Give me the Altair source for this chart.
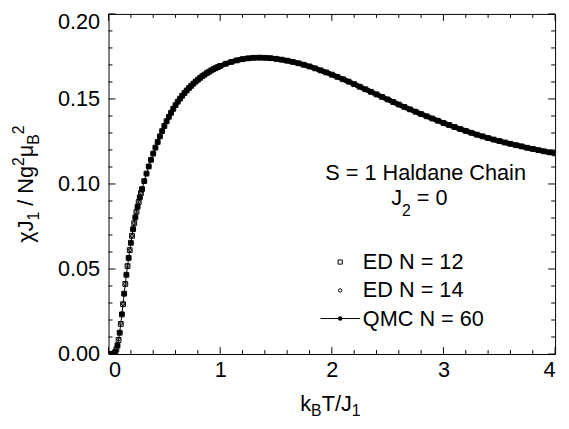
import altair as alt
import pandas as pd

# ---------------- data ----------------
T_ED = [0.01, 0.02, 0.03, 0.04, 0.05, 0.06, 0.07, 0.08, 0.09, 0.10,
        0.11, 0.12, 0.13, 0.14, 0.15, 0.16, 0.17, 0.18, 0.19, 0.20,
        0.21, 0.22, 0.23, 0.24, 0.25, 0.26, 0.27, 0.28, 0.29, 0.30,
        0.32, 0.34, 0.36, 0.38, 0.40, 0.42, 0.44, 0.46, 0.48, 0.50,
        0.52, 0.54, 0.56, 0.58, 0.60, 0.62, 0.64, 0.66, 0.68, 0.70,
        0.72, 0.74, 0.76, 0.78, 0.80, 0.82, 0.84, 0.86, 0.88, 0.90,
        0.92, 0.94, 0.96, 0.98, 1.00,
        1.05, 1.10, 1.15, 1.20, 1.25, 1.30, 1.35, 1.40, 1.45, 1.50,
        1.55, 1.60, 1.65, 1.70, 1.75, 1.80, 1.85, 1.90, 1.95, 2.00,
        2.05, 2.10, 2.15, 2.20, 2.25, 2.30, 2.35, 2.40, 2.45, 2.50,
        2.55, 2.60, 2.65, 2.70, 2.75, 2.80, 2.85, 2.90, 2.95, 3.00,
        3.05, 3.10, 3.15, 3.20, 3.25, 3.30, 3.35, 3.40, 3.45, 3.50,
        3.55, 3.60, 3.65, 3.70, 3.75, 3.80, 3.85, 3.90, 3.95, 4.00]

CHI_ED12 = [0.0000, 0.0000, 0.0000, 0.0001, 0.0004, 0.0012, 0.0027, 0.0050, 0.0083, 0.0125,
            0.0177, 0.0233, 0.0293, 0.0355, 0.0412, 0.0466, 0.0517, 0.0565, 0.0611, 0.0654,
            0.0695, 0.0734, 0.0770, 0.0804, 0.0836, 0.0866, 0.0894, 0.0921, 0.0946, 0.0970,
            0.1017, 0.1061, 0.1103, 0.1142, 0.1179, 0.1214, 0.1247, 0.1280, 0.1311, 0.1341,
            0.1369, 0.1395, 0.1419, 0.1442, 0.1464, 0.1484, 0.1502, 0.1519, 0.1535, 0.1550,
            0.1564, 0.1577, 0.1590, 0.1602, 0.1613, 0.1624, 0.1634, 0.1643, 0.1652, 0.1660,
            0.1668, 0.1675, 0.1682, 0.1688, 0.1694,
            0.1707, 0.1718, 0.1727, 0.1734, 0.1739, 0.1742, 0.1743, 0.1742, 0.1740, 0.1736,
            0.1731, 0.1725, 0.1718, 0.1710, 0.1701, 0.1691, 0.1680, 0.1668, 0.1656, 0.1643,
            0.1630, 0.1616, 0.1602, 0.1587, 0.1572, 0.1557, 0.1542, 0.1527, 0.1512, 0.1497,
            0.1482, 0.1467, 0.1453, 0.1439, 0.1425, 0.1411, 0.1398, 0.1385, 0.1372, 0.1359,
            0.1347, 0.1335, 0.1323, 0.1312, 0.1301, 0.1290, 0.1280, 0.1270, 0.1261, 0.1253,
            0.1244, 0.1236, 0.1228, 0.1221, 0.1213, 0.1206, 0.1199, 0.1192, 0.1186, 0.1180]

CHI_ED14 = [0.0000, 0.0000, 0.0000, 0.0001, 0.0005, 0.0014, 0.0030, 0.0054, 0.0087, 0.0129,
            0.0180, 0.0236, 0.0295, 0.0356, 0.0413, 0.0467, 0.0518, 0.0566, 0.0611, 0.0654,
            0.0695, 0.0734, 0.0770, 0.0804, 0.0836, 0.0866, 0.0894, 0.0921, 0.0946, 0.0970,
            0.1017, 0.1061, 0.1103, 0.1142, 0.1179, 0.1214, 0.1247, 0.1280, 0.1311, 0.1341,
            0.1369, 0.1395, 0.1419, 0.1442, 0.1464, 0.1484, 0.1502, 0.1519, 0.1535, 0.1550,
            0.1564, 0.1577, 0.1590, 0.1602, 0.1613, 0.1624, 0.1634, 0.1643, 0.1652, 0.1660,
            0.1668, 0.1675, 0.1682, 0.1688, 0.1694,
            0.1707, 0.1718, 0.1727, 0.1734, 0.1739, 0.1742, 0.1743, 0.1742, 0.1740, 0.1736,
            0.1731, 0.1725, 0.1718, 0.1710, 0.1701, 0.1691, 0.1680, 0.1668, 0.1656, 0.1643,
            0.1630, 0.1616, 0.1602, 0.1587, 0.1572, 0.1557, 0.1542, 0.1527, 0.1512, 0.1497,
            0.1482, 0.1467, 0.1453, 0.1439, 0.1425, 0.1411, 0.1398, 0.1385, 0.1372, 0.1359,
            0.1347, 0.1335, 0.1323, 0.1312, 0.1301, 0.1290, 0.1280, 0.1270, 0.1261, 0.1253,
            0.1244, 0.1236, 0.1228, 0.1221, 0.1213, 0.1206, 0.1199, 0.1192, 0.1186, 0.1180]

T_QMC = [0.02, 0.04, 0.06, 0.08, 0.10, 0.12, 0.14, 0.16, 0.18, 0.20,
         0.22, 0.24, 0.26, 0.28, 0.30, 0.32, 0.34, 0.36, 0.38, 0.40,
         0.42, 0.44, 0.46, 0.48, 0.50, 0.52, 0.54, 0.56, 0.58, 0.60,
         0.62, 0.64, 0.66, 0.68, 0.70, 0.72, 0.74, 0.76, 0.78, 0.80,
         0.82, 0.84, 0.86, 0.88, 0.90, 0.92, 0.94, 0.96, 0.98, 1.00,
         1.025, 1.050, 1.075, 1.100, 1.125, 1.150, 1.175, 1.200, 1.225, 1.250,
         1.275, 1.300, 1.325, 1.350, 1.375, 1.400, 1.425, 1.450, 1.475, 1.500,
         1.525, 1.550, 1.575, 1.600, 1.625, 1.650, 1.675, 1.700, 1.725, 1.750,
         1.775, 1.800, 1.825, 1.850, 1.875, 1.900, 1.925, 1.950, 1.975, 2.000,
         2.025, 2.050, 2.075, 2.100, 2.125, 2.150, 2.175, 2.200, 2.225, 2.250,
         2.275, 2.300, 2.325, 2.350, 2.375, 2.400, 2.425, 2.450, 2.475, 2.500,
         2.525, 2.550, 2.575, 2.600, 2.625, 2.650, 2.675, 2.700, 2.725, 2.750,
         2.775, 2.800, 2.825, 2.850, 2.875, 2.900, 2.925, 2.950, 2.975, 3.000,
         3.025, 3.050, 3.075, 3.100, 3.125, 3.150, 3.175, 3.200, 3.225, 3.250,
         3.275, 3.300, 3.325, 3.350, 3.375, 3.400, 3.425, 3.450, 3.475, 3.500,
         3.525, 3.550, 3.575, 3.600, 3.625, 3.650, 3.675, 3.700, 3.725, 3.750,
         3.775, 3.800, 3.825, 3.850, 3.875, 3.900, 3.925, 3.950, 3.975, 4.000]

CHI_QMC = [0.0000, 0.0001, 0.0013, 0.0052, 0.0127, 0.0234, 0.0355, 0.0466, 0.0565, 0.0654,
           0.0734, 0.0804, 0.0866, 0.0921, 0.0970, 0.1017, 0.1061, 0.1103, 0.1142, 0.1179,
           0.1214, 0.1247, 0.1280, 0.1311, 0.1341, 0.1369, 0.1395, 0.1419, 0.1442, 0.1464,
           0.1484, 0.1502, 0.1519, 0.1535, 0.1550, 0.1564, 0.1577, 0.1590, 0.1602, 0.1613,
           0.1624, 0.1634, 0.1643, 0.1652, 0.1660, 0.1668, 0.1675, 0.1682, 0.1688, 0.1694,
           0.1701, 0.1707, 0.1713, 0.1718, 0.1723, 0.1727, 0.1731, 0.1734, 0.1737, 0.1739,
           0.1741, 0.1742, 0.1743, 0.1743, 0.1743, 0.1742, 0.1741, 0.1740, 0.1738, 0.1736,
           0.1734, 0.1731, 0.1728, 0.1725, 0.1722, 0.1718, 0.1714, 0.1710, 0.1706, 0.1701,
           0.1696, 0.1691, 0.1686, 0.1680, 0.1674, 0.1668, 0.1662, 0.1656, 0.1650, 0.1643,
           0.1637, 0.1630, 0.1623, 0.1616, 0.1609, 0.1602, 0.1595, 0.1587, 0.1580, 0.1572,
           0.1565, 0.1557, 0.1550, 0.1542, 0.1535, 0.1527, 0.1520, 0.1512, 0.1505, 0.1497,
           0.1490, 0.1482, 0.1475, 0.1467, 0.1460, 0.1453, 0.1446, 0.1439, 0.1432, 0.1425,
           0.1418, 0.1411, 0.1405, 0.1398, 0.1392, 0.1385, 0.1379, 0.1372, 0.1366, 0.1359,
           0.1353, 0.1347, 0.1341, 0.1335, 0.1329, 0.1323, 0.1318, 0.1312, 0.1307, 0.1301,
           0.1296, 0.1290, 0.1285, 0.1280, 0.1275, 0.1270, 0.1266, 0.1261, 0.1257, 0.1253,
           0.1248, 0.1244, 0.1240, 0.1236, 0.1232, 0.1228, 0.1225, 0.1221, 0.1217, 0.1213,
           0.1210, 0.1206, 0.1203, 0.1199, 0.1196, 0.1192, 0.1189, 0.1186, 0.1183, 0.1180]

X_MAJOR = [0, 1, 2, 3, 4]
X_MINOR = [0.2, 0.4, 0.6, 0.8, 1.2, 1.4, 1.6, 1.8, 2.2, 2.4, 2.6, 2.8,
           3.2, 3.4, 3.6, 3.8]
Y_MAJOR = [0.0, 0.05, 0.10, 0.15, 0.20]
Y_MINOR = [0.01, 0.02, 0.03, 0.04, 0.06, 0.07, 0.08, 0.09, 0.11, 0.12,
           0.13, 0.14, 0.16, 0.17, 0.18, 0.19]

LEGEND_LABELS = ["ED N = 12", "ED N = 14", "QMC N = 60"]
NOTE_LINE1 = "S = 1 Haldane Chain"

# ---------------- styling ----------------
W, H = 453, 345
OX, OY = 110, 11          # page position of plot origin (8px page margin)
FONT = "Liberation Sans"
INK = "#000000"
FS = 22
FSS = 16

xs = alt.Scale(domain=[0, 4], nice=False, zero=False)
ys = alt.Scale(domain=[0, 0.2], nice=False, zero=False)

x_axis = alt.Axis(values=X_MAJOR, format="d", title=None, ticks=False, tickSize=0,
                  domain=False, grid=False, labelFont=FONT, labelFontSize=FS,
                  labelColor=INK, labelPadding=6)
y_axis = alt.Axis(values=Y_MAJOR, format=".2f", title=None, ticks=False, tickSize=0,
                  domain=False, grid=False, labelFont=FONT, labelFontSize=FS,
                  labelColor=INK, labelPadding=9,
                  labelOffset={"condition": {"test": "datum.value >= 0.199", "value": 8},
                               "value": 0})

ed12 = pd.DataFrame({"T": T_ED, "chi": CHI_ED12})
ed14 = pd.DataFrame({"T": T_ED, "chi": CHI_ED14})
qmc = pd.DataFrame({"T": T_QMC, "chi": CHI_QMC})


def xy():
    return dict(x=alt.X("T:Q", scale=xs, axis=x_axis),
                y=alt.Y("chi:Q", scale=ys, axis=y_axis))


qmc_line = alt.Chart(qmc).mark_line(color=INK, strokeWidth=1, clip=True).encode(**xy())
qmc_pts = alt.Chart(qmc).mark_point(shape="circle", filled=True, size=28, color=INK,
                                    opacity=1, clip=True).encode(**xy())
ed14_pts = alt.Chart(ed14).mark_point(shape="circle", filled=False, size=12, color=INK,
                                      strokeWidth=1, opacity=1, clip=True).encode(**xy())
ed12_pts = alt.Chart(ed12).mark_point(shape="square", filled=False, size=24, color=INK,
                                      strokeWidth=1, opacity=1, clip=True).encode(**xy())


# ---------------- inward ticks on all four sides ----------------
def xticks(vals, length, top):
    df = pd.DataFrame({"v": vals})
    y0, y1 = (0, length) if top else (H, H - length)
    return alt.Chart(df).mark_rule(color=INK, strokeWidth=1).encode(
        x=alt.X("v:Q", scale=xs, axis=x_axis), y=alt.value(y0), y2=alt.value(y1))


def yticks(vals, length, right):
    df = pd.DataFrame({"v": vals})
    x0, x1 = (W, W - length) if right else (0, length)
    return alt.Chart(df).mark_rule(color=INK, strokeWidth=1).encode(
        y=alt.Y("v:Q", scale=ys, axis=y_axis), x=alt.value(x0), x2=alt.value(x1))


ticks = [xticks(X_MAJOR, 7, False), xticks(X_MINOR, 4, False),
         xticks(X_MAJOR, 7, True), xticks(X_MINOR, 4, True),
         yticks(Y_MAJOR, 7, False), yticks(Y_MINOR, 4, False),
         yticks(Y_MAJOR, 7, True), yticks(Y_MINOR, 4, True)]


# ---------------- text helpers (page coordinates -> plot coordinates) ----------------
def txt(s, px, py, size=FS, align="left", angle=0):
    df = pd.DataFrame({"s": [s]})
    return alt.Chart(df).mark_text(font=FONT, fontSize=size, align=align,
                                   baseline="alphabetic", color=INK, angle=angle).encode(
        text="s:N", x=alt.value(px - OX), y=alt.value(py - OY))


texts = []
# y title: chi J_1 / N g^2 mu_B^2  (rotated, read bottom to top)
bx = 33.5
texts += [txt("χJ", bx, 243.0, FS, angle=270),
          txt("1", bx + 6, 220.6, FSS, angle=270),
          txt("/ Ng", bx, 205.6, FS, angle=270),
          txt("2", bx - 9, 165.3, FSS, angle=270),
          txt("μ", bx, 156.4, FS, angle=270),
          txt("B", bx + 6, 143.7, FSS, angle=270),
          txt("2", bx - 9, 133.0, FSS, angle=270)]
# x title: k_B T / J_1
texts += [txt("k", 304.5, 413.3, FS),
          txt("B", 315.5, 418.5, FSS),
          txt("T/J", 326.2, 413.3, FS),
          txt("1", 356.8, 418.5, FSS)]
# annotation
texts += [txt(NOTE_LINE1, 431.7, 179.3, FS, align="center"),
          txt("J", 396.7, 205.0, FS),
          txt("2", 407.7, 215.5, FSS),
          txt("= 0", 422.7, 205.0, FS)]
# legend labels
texts += [txt(LEGEND_LABELS[0], 368.0, 270.0, FS),
          txt(LEGEND_LABELS[1], 368.0, 298.5, FS),
          txt(LEGEND_LABELS[2], 368.0, 327.3, FS)]

one = pd.DataFrame({"k": [0]})
leg = [
    alt.Chart(one).mark_point(shape="square", filled=False, size=18, color=INK,
                              strokeWidth=1, opacity=1).encode(
        x=alt.value(345 - OX), y=alt.value(262.7 - OY)),
    alt.Chart(one).mark_point(shape="circle", filled=False, size=12, color=INK,
                              strokeWidth=1, opacity=1).encode(
        x=alt.value(345 - OX), y=alt.value(291.5 - OY)),
    alt.Chart(one).mark_rule(color=INK, strokeWidth=1).encode(
        x=alt.value(325 - OX), x2=alt.value(365 - OX), y=alt.value(320 - OY)),
    alt.Chart(one).mark_point(shape="circle", filled=True, size=20, color=INK,
                              opacity=1).encode(
        x=alt.value(345 - OX), y=alt.value(320 - OY)),
]

chart = alt.layer(
    *ticks, qmc_line, qmc_pts, ed14_pts, ed12_pts, *leg, *texts
).properties(
    width=W, height=H,
    autosize=alt.AutoSizeParams(type="none"),
    padding={"left": OX - 8, "top": OY - 8, "right": 6, "bottom": 70},
    background="white",
).configure_view(stroke=INK, strokeWidth=1)

chart.save("out.html", embed_options={"renderer": "svg", "actions": False})
